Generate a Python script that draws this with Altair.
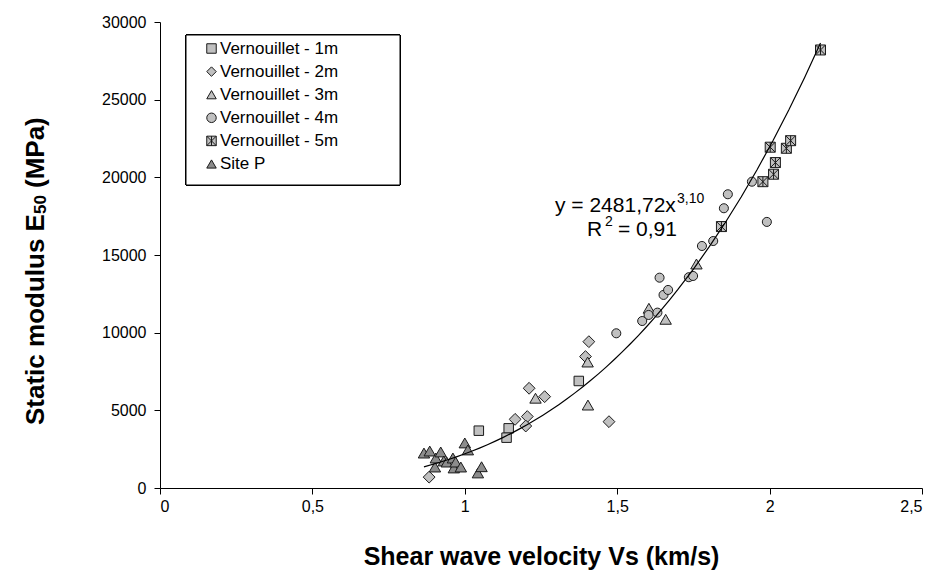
import altair as alt
import pandas as pd

# ---- data ----
series_names = ["Vernouillet - 1m", "Vernouillet - 2m", "Vernouillet - 3m",
                "Vernouillet - 4m", "Vernouillet - 5m", "Site P"]

vs_1m = [1.046, 1.144, 1.137, 1.374]
e_1m = [3690, 3840, 3240, 6890]

vs_2m = [0.883, 1.165, 1.205, 1.200, 1.211, 1.262, 1.473, 1.396, 1.407]
e_2m = [700, 4420, 4600, 3990, 6420, 5880, 4270, 8460, 9420]

vs_3m = [1.232, 1.403, 1.404, 1.604, 1.659, 1.760]
e_3m = [5780, 8110, 5340, 11570, 10860, 14420]

vs_4m = [1.497, 1.582, 1.603, 1.632, 1.639, 1.652, 1.667, 1.735, 1.749,
         1.778, 1.815, 1.850, 1.863, 1.942, 1.991]
e_4m = [9960, 10750, 11140, 11290, 13540, 12430, 12750, 13570, 13650,
        15580, 15900, 18010, 18910, 19720, 17130]

vs_5m = [1.842, 1.978, 2.002, 2.013, 2.019, 2.055, 2.069, 2.167]
e_5m = [16830, 19720, 21940, 20200, 20950, 21870, 22360, 28200]

vs_p = [0.866, 0.885, 0.902, 0.905, 0.921, 0.931, 0.941, 0.961, 0.964,
        0.970, 0.987, 1.000, 1.010, 1.043, 1.055]
e_p = [2250, 2380, 1350, 1930, 2320, 1740, 1670, 1930, 1290,
       1670, 1350, 2900, 2450, 970, 1370]

x_ticks = [0, 0.5, 1, 1.5, 2, 2.5]
y_ticks = [0, 5000, 10000, 15000, 20000, 25000, 30000]

STAR = "M-1,-1L1,-1L1,1L-1,1Z M-1,-1L1,1 M1,-1L-1,1 M0,-1L0,1"
shapes = ["square", "diamond", "triangle-up", "circle", STAR, "triangle-up"]
fills = ["#c0c0c0", "#c0c0c0", "#c0c0c0", "#c0c0c0", "#c0c0c0", "#8c8c8c"]
strokes = ["#1a1a1a"] * 6
marker_sizes = [90, 140, 130, 82, 100, 130]

# ---- build table ----
rows = []
for name, xs, ys, sz in zip(series_names,
                            [vs_1m, vs_2m, vs_3m, vs_4m, vs_5m, vs_p],
                            [e_1m, e_2m, e_3m, e_4m, e_5m, e_p],
                            marker_sizes):
    for a, b in zip(xs, ys):
        rows.append({"series": name, "vs": a, "E": b, "sz": sz})
df = pd.DataFrame(rows)

FONT = "Liberation Sans"
xscale = alt.Scale(domain=[0, 2.5], nice=False, zero=False)
yscale = alt.Scale(domain=[0, 30000], nice=False)

leg = alt.Legend(orient="none", legendX=43, legendY=18, title=None,
                 labelFont=FONT, labelFontSize=17, labelColor="black",
                 rowPadding=5.1, labelOffset=0, padding=0, symbolSize=90,
                 symbolStrokeWidth=1)

points = alt.Chart(df).mark_point(filled=True, strokeWidth=1, opacity=1).encode(
    x=alt.X("vs:Q", scale=xscale,
            axis=alt.Axis(values=x_ticks, title="Shear wave velocity Vs (km/s)",
                          labelExpr="replace(toString(datum.value), '.', ',')",
                          titleFont=FONT, titleFontSize=25, titleFontWeight="bold",
                          titlePadding=30, labelPadding=4)),
    y=alt.Y("E:Q", scale=yscale,
            axis=alt.Axis(values=y_ticks, title=None, format="d", labelPadding=8)),
    shape=alt.Shape("series:N", scale=alt.Scale(domain=series_names, range=shapes), legend=leg),
    fill=alt.Fill("series:N", scale=alt.Scale(domain=series_names, range=fills), legend=leg),
    stroke=alt.Stroke("series:N", scale=alt.Scale(domain=series_names, range=strokes), legend=leg),
    size=alt.Size("sz:Q", scale=None),
)

trend = alt.Chart(df).transform_regression("vs", "E", method="pow").mark_line(
    color="black", strokeWidth=1.2).encode(
    x=alt.X("vs:Q", scale=xscale), y=alt.Y("E:Q", scale=yscale))

legend_box = alt.Chart(df).mark_rect(fill="white", stroke="black", strokeWidth=1).encode(
    x=alt.value(26), x2=alt.value(240), y=alt.value(13), y2=alt.value(163))

def txt(s, x, y, size, weight="normal", angle=0, align="left", baseline="alphabetic"):
    return alt.Chart(pd.DataFrame({"t": [s]})).mark_text(
        font=FONT, fontSize=size, fontWeight=weight, angle=angle, align=align,
        baseline=baseline, color="black").encode(
        text="t:N", x=alt.value(x), y=alt.value(y))

eq = [
    txt("y = 2481,72x", 395, 190, 21),
    txt("3,10", 517, 181, 14),
    txt("R", 427, 214, 21),
    txt("2", 445, 204, 14),
    txt("= 0,91", 458, 214, 21),
]

# y axis title composed with subscript
ytitle = [
    txt("Static modulus E", -124, 403, 26, "bold", 270, "left", "middle"),
    txt("50", -119, 192, 17, "bold", 270, "left", "middle"),
    txt("(MPa)", -124, 166, 26, "bold", 270, "left", "middle"),
]

chart = alt.layer(legend_box, points, trend, *eq, *ytitle).properties(
    width=762, height=466,
    padding={"left": 152, "top": 14, "right": 8, "bottom": 85},
    autosize="none",
).configure_view(stroke=None).configure_axis(
    grid=False, domainColor="black", tickColor="black", tickSize=6,
    labelFont=FONT, labelFontSize=16, labelColor="black", titleColor="black",
    domainWidth=1, tickWidth=1)

chart.save("out.html", embed_options={"renderer": "svg", "actions": False})
